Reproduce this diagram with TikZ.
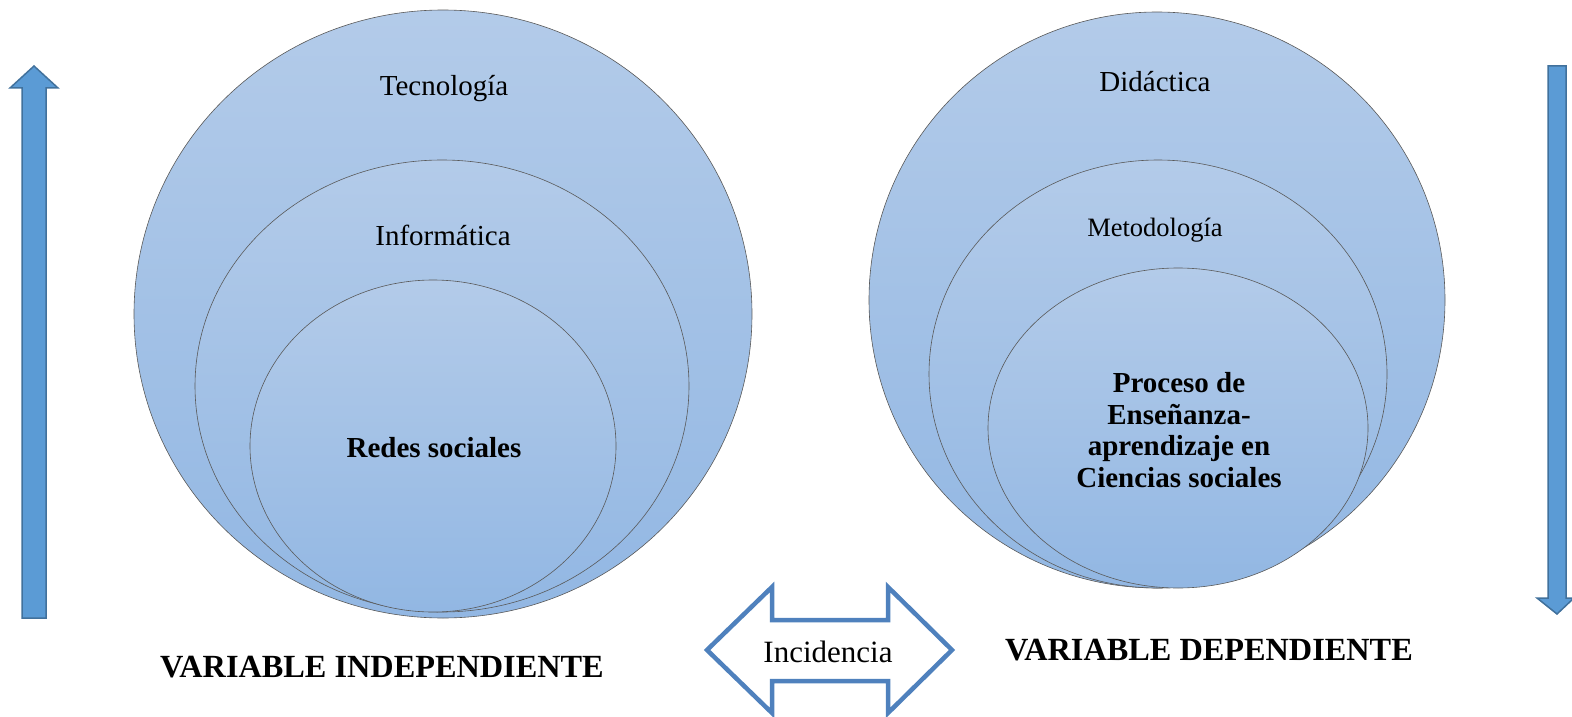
\documentclass[tikz,border=0pt]{standalone}
\usepackage{fontspec}
\setmainfont{Liberation Serif}
\usetikzlibrary{shapes.geometric}
\definecolor{ctop}{RGB}{179,203,233}
\definecolor{cbot}{RGB}{146,183,227}
\definecolor{arrfill}{RGB}{91,155,213}
\definecolor{arrline}{RGB}{65,113,156}
\definecolor{dblline}{RGB}{79,129,189}
\tikzset{
  bubble/.style={ellipse, draw=black!65, line width=0.6pt, top color=ctop, bottom color=cbot, inner sep=0pt},
  lbl/.style={font=\fontsize{29}{33}\selectfont, inner sep=0pt},
  blbl/.style={font=\fontsize{29}{31.5}\selectfont\bfseries, inner sep=0pt, align=center},
  title/.style={font=\fontsize{32.3}{36}\selectfont\bfseries, inner sep=0pt},
  vararrow/.style={fill=arrfill, draw=arrline, line width=1.5pt, line join=miter},
  dblarrow/.style={fill=white, draw=dblline, line width=4.5pt, line join=miter}
}
\begin{document}
\begin{tikzpicture}[x=1pt,y=-1pt]
\useasboundingbox (0,0) rectangle (1572,717);
% left circles
\node[bubble, minimum width=618pt, minimum height=608pt] (lo) at (443,314) {};
\node[bubble, minimum width=494pt, minimum height=452pt] (lm) at (442,386) {};
\node[bubble, minimum width=366pt, minimum height=332pt] (li) at (433,446) {};
\node[lbl] (tec) at (444,89) {Tecnología};
\node[lbl] (inf) at (443,235) {Informática};
\node[blbl] (red) at (434,448) {Redes sociales};
% right circles
\node[bubble, minimum width=576pt, minimum height=576pt] (ro) at (1157,300) {};
\node[bubble, minimum width=458pt, minimum height=428pt] (rm) at (1158,374) {};
\node[bubble, minimum width=380pt, minimum height=320pt] (ri) at (1178,428) {};
\node[lbl] (did) at (1155,82) {Didáctica};
\node[lbl, font=\fontsize{26.5}{30}\selectfont] (met) at (1155,230) {Metodología};
\node[blbl] (pro) at (1179,430) {Proceso de\\Enseñanza-\\aprendizaje en\\Ciencias sociales};
% vertical arrows
\draw[vararrow] (34,66) -- (10,88) -- (22,88) -- (22,618) -- (46,618) -- (46,88) -- (58,88) -- cycle;
\draw[vararrow] (1548,66) -- (1566,66) -- (1566,598) -- (1574,598) -- (1557,614) -- (1537,598) -- (1548,598) -- cycle;
% double arrow
\draw[dblarrow] (707,650) -- (772,587) -- (772,620) -- (888,620) -- (888,587) -- (952,650) -- (888,713) -- (888,681) -- (772,681) -- (772,713) -- cycle;
\node[lbl, font=\fontsize{31}{34}\selectfont] (inc) at (828,652) {Incidencia};
% titles
\node[title] (vi) at (382,667) {VARIABLE INDEPENDIENTE};
\node[title] (vd) at (1209,650) {VARIABLE DEPENDIENTE};
\end{tikzpicture}
\end{document}
